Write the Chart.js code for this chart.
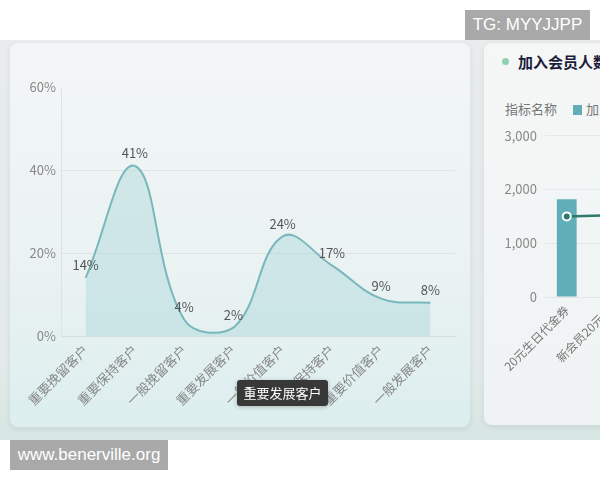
<!DOCTYPE html>
<html>
<head>
<meta charset="utf-8">
<script src="https://cdn.jsdelivr.net/npm/chart.js@4"></script>
<style>
  body { margin: 0; width: 600px; height: 480px; overflow: hidden; background: #fff; position: relative; font-family: "Noto Sans CJK SC", sans-serif; }
  .stage { position: absolute; left: 0; top: 40px; width: 600px; height: 400px; background: linear-gradient(#e8ecec, #e3ebea 80%, #d6e6e3); }
  .card { position: absolute; border-radius: 8px; box-shadow: 0 2px 6px rgba(0,0,0,0.08); }
  #cardL { left: 10px; top: 43px; width: 460px; height: 384px; background: linear-gradient(#f3f6f6, #eaf2f2 60%, #dceeee); }
  #cardR { left: 484px; top: 43px; width: 140px; height: 382px; background: linear-gradient(#f5f7f7, #eff3f3); }
  canvas { position: absolute; }
  #main { left: 10px; top: 45px; }
  #side { left: 485px; top: 120px; }
  .tip { position: absolute; left: 237px; top: 380px; width: 91px; height: 26px; background: #383838; border-radius: 3px; color: #fff; font-size: 13px; line-height: 26px; text-align: center; box-shadow: 0 1px 4px rgba(0,0,0,0.25); }
  .title { position: absolute; left: 502px; top: 51px; font-size: 15px; font-weight: bold; color: #1b1b3b; white-space: nowrap; }
  .title i { display: inline-block; width: 7px; height: 7px; border-radius: 50%; background: #8fd0b0; margin-right: 9px; vertical-align: 3px; }
  .legend { position: absolute; left: 505px; top: 99px; font-size: 13px; color: #777; white-space: nowrap; }
  .legend b { display: inline-block; width: 9px; height: 10px; background: #62aeb8; margin: 0 4px 0 16px; vertical-align: -1px; }
  .wm { position: absolute; background: #a9a9a9; color: #fff; font-family: "Liberation Sans", sans-serif; font-size: 17px; text-align: center; }
</style>
</head>
<body>
<div class="stage"></div>
<div class="card" id="cardL"></div>
<div class="card" id="cardR"></div>
<canvas id="main" width="460" height="380"></canvas>
<canvas id="side" width="240" height="290"></canvas>
<div class="title"><i></i>加入会员人数</div>
<div class="legend">指标名称<b></b>加入会员人数</div>
<div class="tip">重要发展客户</div>
<div class="wm" style="left:465px;top:10px;width:125px;height:30px;line-height:30px;">TG: MYYJJPP</div>
<div class="wm" style="left:10px;top:440px;width:158px;height:30px;line-height:30px;">www.benerville.org</div>
<script>
// 客户分类占比
const customerTypes = ['重要挽留客户', '重要保持客户', '一般挽留客户', '重要发展客户', '一般价值客户', '一般保持客户', '重要价值客户', '一般发展客户'];
const shares = [14, 41, 4, 2, 24, 17, 9, 8];
const shareTicks = [0, 20, 40, 60];

// 右侧: 加入会员人数
const coupons = ['20元生日代金券', '新会员20元券', '老会员回馈券', '会员日满减券'];
const joinCounts = [1820, 1700, 1500, 1400];
const lineCounts = [1500, 1520, 1450, 1400];

const font = '"Noto Sans CJK SC", sans-serif';

const pctLabels = {
  id: 'pctLabels',
  afterDatasetsDraw(chart) {
    const ctx = chart.ctx;
    const meta = chart.getDatasetMeta(0);
    ctx.save();
    ctx.font = '13px ' + font;
    ctx.fillStyle = '#555';
    ctx.textAlign = 'center';
    ctx.textBaseline = 'bottom';
    meta.data.forEach((pt, i) => {
      ctx.fillText(shares[i] + '%', pt.x, pt.y - 6);
    });
    ctx.restore();
  }
};

new Chart(document.getElementById('main'), {
  type: 'line',
  data: {
    labels: customerTypes,
    datasets: [{
      data: shares,
      borderColor: '#78b7bc',
      borderWidth: 2,
      backgroundColor: 'rgba(160, 210, 214, 0.38)',
      fill: 'origin',
      tension: 0.4,
      pointRadius: 0
    }]
  },
  options: {
    responsive: false,
    animation: false,
    layout: { padding: { top: 42, right: 15 } },
    plugins: { legend: { display: false }, tooltip: { enabled: false } },
    scales: {
      x: {
        offset: true,
        afterFit: s => { s.height = 89; },
        grid: { display: false, drawTicks: false },
        border: { color: '#d6dcdc' },
        ticks: { minRotation: 45, maxRotation: 45, padding: 6, color: '#888', font: { size: 13, family: font } }
      },
      y: {
        min: 0,
        max: 60,
        afterFit: s => { s.width = 51; },
        afterBuildTicks: s => { s.ticks = shareTicks.map(v => ({ value: v })); },
        grid: {
          drawTicks: false,
          color: c => (c.tick.value === 20 || c.tick.value === 40) ? 'rgba(0,0,0,0.06)' : 'rgba(0,0,0,0)'
        },
        border: { color: '#dde2e2' },
        ticks: { padding: 5, color: '#888', font: { size: 13, family: font }, callback: v => v + '%' }
      }
    }
  },
  plugins: [pctLabels]
});

new Chart(document.getElementById('side'), {
  data: {
    labels: coupons,
    datasets: [{
      type: 'line',
      data: lineCounts,
      borderColor: '#2c7a6c',
      borderWidth: 2.5,
      pointRadius: 4,
      pointBackgroundColor: '#2c7a6c',
      pointBorderColor: '#fff',
      pointBorderWidth: 2,
      tension: 0
    }, {
      type: 'bar',
      data: joinCounts,
      backgroundColor: '#62aeb8',
      categoryPercentage: 1,
      barPercentage: 0.455
    }]
  },
  options: {
    responsive: false,
    animation: false,
    layout: { padding: { top: 9, right: 4 } },
    plugins: { legend: { display: false }, tooltip: { enabled: false } },
    scales: {
      x: {
        afterFit: s => { s.height = 113; },
        grid: { display: false, drawTicks: false },
        border: { color: '#e2e6e6' },
        ticks: { minRotation: 45, maxRotation: 45, padding: 6, color: '#777', font: { size: 12, family: font } }
      },
      y: {
        min: 0,
        max: 3000,
        afterFit: s => { s.width = 60; },
        grid: { drawTicks: false, color: 'rgba(0,0,0,0.05)' },
        border: { display: false },
        ticks: { stepSize: 1000, padding: 8, color: '#888', font: { size: 13, family: font }, callback: v => v.toLocaleString('en-US') }
      }
    }
  }
});
</script>
</body>
</html>
